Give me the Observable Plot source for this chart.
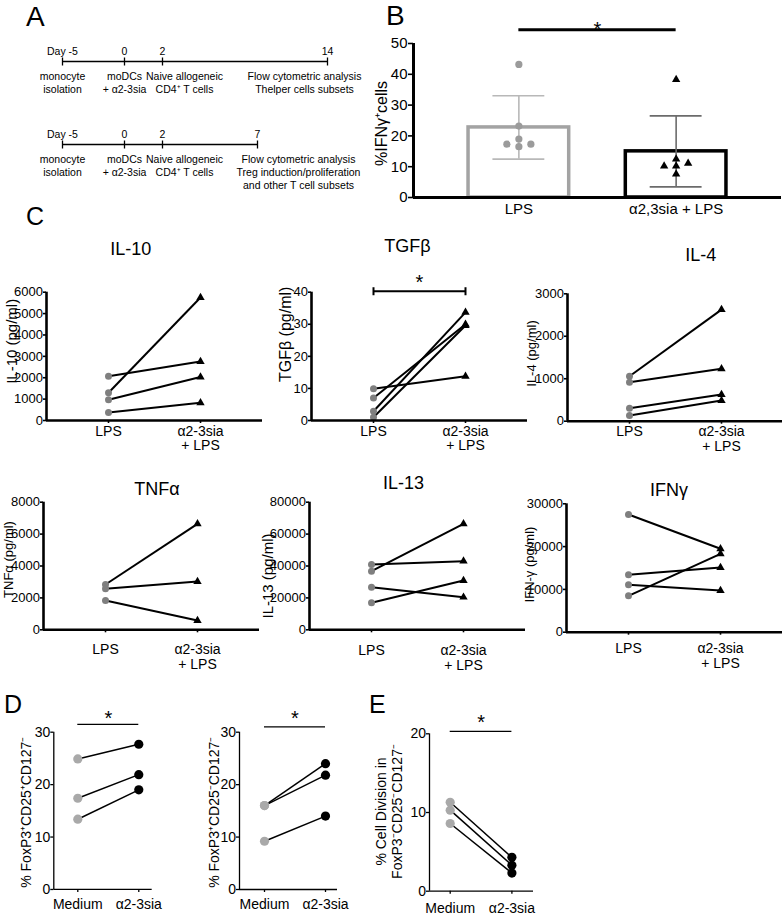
<!DOCTYPE html>
<html>
<head>
<meta charset="utf-8">
<script src="https://cdn.jsdelivr.net/npm/d3@7"></script>
<script src="https://cdn.jsdelivr.net/npm/@observablehq/plot@0.6"></script>
<style>
  body { margin: 0; background: #fff; }
  #fig { position: relative; width: 782px; height: 915px; overflow: hidden; background: #fff;
         font-family: "Liberation Sans", Arial, Helvetica, sans-serif; }
  .letter { position: absolute; line-height: 1; font-family: "Liberation Sans", Arial, Helvetica, sans-serif; color: #000; }
</style>
</head>
<body>
<div id="fig"></div>
<script>
// ---------------- DATA ----------------
// Panel A: culture timelines
const timelineRows = ["T helper subsets", "Treg induction"];
const timelineDaysTh = [-5, 0, 2, 14];
const timelineDaysTreg = [-5, 0, 2, 7];
const timelineEventLabels = ["monocyte\nisolation", "moDCs\n+ α2-3sia", "Naive allogeneic\nCD4⁺ T cells"];
const timelineEndLabels = ["Flow cytometric analysis\nThelper cells subsets",
                           "Flow cytometric analysis\nTreg induction/proliferation\nand other T cell subsets"];

// Panel B: % IFNγ+ cells
const ifngCategories = ["LPS", "α2,3sia + LPS"];
const ifngLPS = [43.2, 23.2, 19.0, 16.5, 17.3, 17.3];
const ifngSia = [38.3, 12.5, 11.1, 10.2, 10.2, 7.6];
const ifngTicks = [0, 10, 20, 30, 40, 50];

// Panel C: cytokines (pg/ml), paired donors LPS -> α2-3sia + LPS
const cytoCategories = ["LPS", "α2-3sia\n+ LPS"];
const il10LPS = [2070, 1300, 970, 370];
const il10Sia = [2760, 5750, 2030, 830];
const il10Ticks = [0, 1000, 2000, 3000, 4000, 5000, 6000];
const tgfbLPS = [9.9, 7.0, 2.9, 1.0];
const tgfbSia = [13.8, 30.0, 33.7, 29.6];
const tgfbTicks = [0, 10, 20, 30, 40];
const il4LPS = [1059, 918, 306, 134];
const il4Sia = [2628, 1233, 628, 487];
const il4Ticks = [0, 1000, 2000, 3000];
const tnfLPS = [2840, 2570, 1837];
const tnfSia = [6646, 3028, 583];
const tnfTicks = [0, 2000, 4000, 6000, 8000];
const il13LPS = [40940, 36760, 26720, 16930];
const il13Sia = [43020, 66450, 20440, 30900];
const il13Ticks = [0, 20000, 40000, 60000, 80000];
const ifnLPS = [27500, 13400, 11070, 8500];
const ifnSia = [19490, 15120, 9740, 18320];
const ifnTicks = [0, 10000, 20000, 30000];

// Panels D & E
const tregCategories = ["Medium", "α2-3sia"];
const d1Medium = [24.9, 17.4, 13.4];
const d1Sia = [27.7, 21.9, 19.0];
const d2Medium = [16.0, 16.0, 9.2];
const d2Sia = [24.0, 21.8, 14.0];
const tregTicks = [0, 10, 20, 30];
const eMedium = [11.3, 10.3, 8.6];
const eSia = [4.3, 3.3, 2.3];
const eTicks = [0, 10, 20];

// ---------------- HELPERS ----------------
const FONT = '"Liberation Sans", Arial, Helvetica, sans-serif';
const baseStyle = {fontFamily: FONT, background: "transparent", overflow: "visible", color: "black"};
const fig = document.getElementById("fig");
function place(node, left, top) {
  node.style.position = "absolute";
  node.style.left = left + "px";
  node.style.top = top + "px";
  fig.appendChild(node);
}
function letter(ch, left, top, size) {
  const d = document.createElement("div");
  d.className = "letter";
  d.textContent = ch;
  d.style.left = left + "px";
  d.style.top = top + "px";
  d.style.fontSize = size + "px";
  fig.appendChild(d);
}
// vertical bar symbol (timeline ticks, bracket caps)
const vbar = {draw(ctx, size) { const r = Math.sqrt(size / Math.PI); ctx.moveTo(0, -r); ctx.lineTo(0, r); }};

// simple beeswarm offsets (in slot units)
function swarm(values, pxPerUnit, stepPx, minDist) {
  const placed = [], off = new Array(values.length);
  const order = d3.range(values.length).sort((a, b) => values[a] - values[b]);
  for (const i of order) {
    for (const k of [0, -1, 1, -2, 2, -3, 3]) {
      if (placed.every(p => Math.hypot((p.k - k) * stepPx, (p.v - values[i]) * pxPerUnit) >= minDist)) {
        off[i] = k; placed.push({k, v: values[i]}); break;
      }
    }
  }
  return off;
}

// ---------------- PANEL A ----------------
const tlEvents = [];
[timelineDaysTh, timelineDaysTreg].forEach((days, r) => days.forEach((day, j) => tlEvents.push({
  row: timelineRows[r], r, day, j, last: j === days.length - 1,
  top: j === 0 ? `Day ${day}` : String(day),
  bottom: j === days.length - 1 ? timelineEndLabels[r] : timelineEventLabels[j]
})));
const tlSpans = [timelineDaysTh, timelineDaysTreg].map((days, r) => ({row: timelineRows[r], start: d3.min(days), end: d3.max(days)}));
const allDays = Array.from(new Set([...timelineDaysTh, ...timelineDaysTreg])).sort((a, b) => a - b);
const tA = {x: "day", y: "row", fontSize: 10.5, lineHeight: 1.2, text: "bottom", lineAnchor: "top", dy: 10};
const plotA = Plot.plot({
  width: 385, height: 195, margin: 0, style: baseStyle,
  x: {type: "linear", domain: allDays, range: [62, 124, 162, 257, 327], axis: null},
  y: {type: "point", domain: timelineRows, range: [61, 144], padding: 0, axis: null},
  marks: [
    Plot.ruleY(tlSpans, {y: "row", x1: "start", x2: "end", stroke: "black", strokeWidth: 1.3}),
    Plot.dot(tlEvents, {x: "day", y: "row", symbol: vbar, r: 4, fill: "none", stroke: "black", strokeWidth: 1.3}),
    Plot.text(tlEvents, {x: "day", y: "row", fontSize: 10.5, text: "top", lineAnchor: "bottom", dy: -7}),
    Plot.text(tlEvents.filter(d => !d.last && d.j < 2), tA),
    Plot.text(tlEvents.filter(d => !d.last && d.j === 2), {...tA, dx: 22}),
    Plot.text(tlEvents.filter(d => d.last && d.r === 0), {...tA, dx: -23}),
    Plot.text(tlEvents.filter(d => d.last && d.r === 1), {...tA, dx: 41})
  ]
});
place(plotA, 0, 0);

// ---------------- PANEL B ----------------
const bPad = 0.67, barHalf = 0.32, capHalf = 0.165;
const bW = 422, bH = 225, bML = 53, bMR = 1, bMT = 43, bMB = 28;
const bUnitPx = (bW - bML - bMR) / (1 + 2 * bPad);
const bPxPerUnit = (bH - bMT - bMB) / d3.max(ifngTicks);
const bXDomain = [1 - bPad, 2 + bPad];
const bSets = [ifngLPS, ifngSia];
const bStats = bSets.map((v, k) => ({k, pos: k + 1, mean: d3.mean(v), sd: d3.deviation(v)}));
const bDots = [];
bSets.forEach((vals, k) => {
  const off = swarm(vals, bPxPerUnit, 12, 7);
  vals.forEach((v, i) => bDots.push({k, x: k + 1 + off[i] * 12 / bUnitPx, y: v}));
});
const bBarStroke = ["#a3a3a3", "#000000"];
const bErrStroke = ["#b8b8b8", "#6b6b6b"];
const bBracketLevel = 54.5;
const bMarks = [];
bStats.forEach(g => {
  bMarks.push(Plot.rectY([g], {x1: d => d.pos - barHalf, x2: d => d.pos + barHalf, y1: () => 0, y2: "mean",
    fill: "white", stroke: bBarStroke[g.k], strokeWidth: 3.5}));
  bMarks.push(Plot.ruleX([g], {x: "pos", y1: d => d.mean - d.sd, y2: d => d.mean + d.sd, stroke: bErrStroke[g.k], strokeWidth: 1.6}));
  bMarks.push(Plot.ruleY([g.mean - g.sd, g.mean + g.sd], {y: d => d, x1: () => g.pos - capHalf, x2: () => g.pos + capHalf,
    stroke: bErrStroke[g.k], strokeWidth: 1.6}));
});
bMarks.push(
  Plot.dot(bDots.filter(d => d.k === 0), {x: "x", y: "y", r: 3.6, fill: "#9b9b9b", symbol: "circle"}),
  Plot.dot(bDots.filter(d => d.k === 1), {x: "x", y: "y", r: 3.1, fill: "black", symbol: "triangle"}),
  Plot.ruleY([0], {strokeWidth: 3}),
  Plot.ruleX([bXDomain[0]], {y1: () => 0, y2: () => d3.max(ifngTicks), strokeWidth: 3}),
  Plot.axisY({ticks: ifngTicks, tickSize: 5, tickPadding: 1, fontSize: 15, strokeWidth: 1.6, label: null}),
  Plot.axisX({ticks: [1, 2], tickFormat: d => ifngCategories[d - 1], tickSize: 0, tickPadding: 6, fontSize: 15, label: null}),
  Plot.text(["%IFNγ⁺cells"], {frameAnchor: "left", textAnchor: "middle", rotate: -90, dx: -32, dy: 3, fontSize: 16, text: d => d}),
  Plot.ruleY([bBracketLevel], {y: d => d, x1: () => 1, x2: () => 2, strokeWidth: 3}),
  Plot.text(["*"], {x: () => 1.5, y: () => bBracketLevel, fontSize: 20, text: d => d})
);
const plotB = Plot.plot({
  width: bW, height: bH, marginLeft: bML, marginRight: bMR, marginTop: bMT, marginBottom: bMB,
  style: baseStyle,
  x: {domain: bXDomain}, y: {domain: [0, d3.max(ifngTicks)]},
  marks: bMarks
});
place(plotB, 360, 0);

// ---------------- PAIRED PLOTS (C, D, E) ----------------
function pairedPlot(c, L) {
  const frameW = L.padL + L.unit + L.padR;
  const width = L.mL + frameW + L.mR;
  const height = L.svgBottom - L.svgTop;
  const ymax = d3.max(c.yTicks);
  const xDomain = [-L.padL / L.unit, 1 + L.padR / L.unit];
  const pairs = c.before.map((v, i) => ({a: v, b: c.after[i]}));
  const marks = [
    Plot.link(pairs, {x1: () => 0, y1: "a", x2: () => 1, y2: "b", stroke: "black", strokeWidth: c.lineWidth}),
    Plot.dot(pairs, {x: () => 0, y: "a", fill: c.beforeColor, r: c.r1, symbol: "circle"}),
    Plot.dot(pairs, {x: () => 1, y: "b", fill: "black", r: c.r2, symbol: c.afterSymbol}),
    Plot.ruleY([0], {strokeWidth: c.axisWidth}),
    Plot.ruleX([xDomain[0]], {y1: () => 0, y2: () => ymax, strokeWidth: c.axisWidth}),
    Plot.axisY({ticks: c.yTicks, tickSize: L.ytickSize, tickPadding: L.ytickPad, fontSize: c.yTickFont,
      strokeWidth: c.tickWidth, label: null, tickFormat: d3.format("d")}),
    Plot.axisX({ticks: [0, 1], tickFormat: i => c.cats[i], tickSize: 3, tickPadding: L.xtickPad,
      fontSize: c.xTickFont, lineHeight: 1.06, strokeWidth: c.tickWidth, label: null}),
    Plot.text([c.ylabel], {frameAnchor: "left", textAnchor: "middle", rotate: -90, dx: L.labelDx, dy: L.labelDy,
      fontSize: L.labelSize, lineHeight: 1.2, text: d => d})
  ];
  if (c.title) marks.push(Plot.text([c.title], {frameAnchor: "top", dx: L.titleDx, dy: L.titleDy, fontSize: 18, text: d => d}));
  if (c.sigLevel != null) {
    marks.push(Plot.ruleY([c.sigLevel], {y: d => d, x1: () => 0, x2: () => 1, strokeWidth: c.sigWidth}));
    if (c.sigCaps) marks.push(Plot.dot([0, 1], {x: d => d, y: () => c.sigLevel, symbol: vbar, r: 4, fill: "none", stroke: "black", strokeWidth: c.sigWidth}));
    marks.push(Plot.text(["*"], {x: () => 0.5, y: () => c.sigLevel, dy: L.starDy, fontSize: 20, text: d => d}));
  }
  const p = Plot.plot({
    width, height, marginLeft: L.mL, marginRight: L.mR,
    marginTop: L.yTop - L.svgTop, marginBottom: L.svgBottom - L.y0,
    style: baseStyle,
    x: {domain: xDomain}, y: {domain: [0, ymax]},
    marks
  });
  place(p, L.axisX - L.mL, L.svgTop);
}

const cStyle = {cats: cytoCategories, lineWidth: 2, beforeColor: "#7f7f7f", r1: 3.5, r2: 3.1, afterSymbol: "triangle",
  axisWidth: 2.6, tickWidth: 1.6, yTickFont: 13, xTickFont: 14, sigWidth: 2, sigCaps: true};
const cytokines = [
  {title: "IL-10", ylabel: "IL-10 (pg/ml)", before: il10LPS, after: il10Sia, yTicks: il10Ticks},
  {title: "TGFβ", ylabel: "TGFβ (pg/ml)", before: tgfbLPS, after: tgfbSia, yTicks: tgfbTicks, sigLevel: 40.3},
  {title: "IL-4", ylabel: "IL-4 (pg/ml)", before: il4LPS, after: il4Sia, yTicks: il4Ticks},
  {title: "TNFα", ylabel: "TNFα (pg/ml)", before: tnfLPS, after: tnfSia, yTicks: tnfTicks},
  {title: "IL-13", ylabel: "IL-13 (pg/ml)", before: il13LPS, after: il13Sia, yTicks: il13Ticks},
  {title: "IFNγ", ylabel: "IFN-γ (pg/ml)", before: ifnLPS, after: ifnSia, yTicks: ifnTicks}
];
const cCommon = {mL: 46, mR: 4, padL: 62, unit: 92, padR: 62, ytickSize: 3, ytickPad: 0.5, starDy: -8.5};
const cLayouts = [
  {axisX: 45.7, yTop: 291.7, y0: 420, svgTop: 222, svgBottom: 452, titleDx: -23.7, titleDy: -49.7, labelDx: -35, labelDy: -15, labelSize: 15, xtickPad: 1.5},
  {axisX: 310.7, yTop: 291.7, y0: 420, svgTop: 222, svgBottom: 452, titleDx: -12, titleDy: -52.7, labelDx: -26.5, labelDy: -22, labelSize: 16, xtickPad: 1.5},
  {axisX: 566.7, yTop: 293.3, y0: 420.7, svgTop: 222, svgBottom: 452, titleDx: 25.3, titleDy: -45.3, labelDx: -37, labelDy: -4, labelSize: 13, xtickPad: 1.5},
  {axisX: 43.3, yTop: 501.7, y0: 629.3, svgTop: 462, svgBottom: 677, titleDx: 5.4, titleDy: -20, labelDx: -36, labelDy: -6.5, labelSize: 13, xtickPad: 10.5},
  {axisX: 309.3, yTop: 501.7, y0: 629.3, svgTop: 462, svgBottom: 677, titleDx: -14, titleDy: -25.7, labelDx: -42, labelDy: 10, labelSize: 15, xtickPad: 12},
  {axisX: 565.7, yTop: 503.3, y0: 631.7, svgTop: 462, svgBottom: 677, titleDx: -5.4, titleDy: -20.3, labelDx: -38, labelDy: -3.5, labelSize: 13, xtickPad: 7}
];
cytokines.forEach((c, i) => pairedPlot({...cStyle, ...c}, {...cCommon, ...cLayouts[i]}));

const dStyle = {cats: tregCategories, lineWidth: 1.5, beforeColor: "#a9a9a9", r1: 4.6, r2: 4.6, afterSymbol: "circle",
  axisWidth: 1.3, tickWidth: 1.3, yTickFont: 14, xTickFont: 14, sigWidth: 1.3, sigCaps: false};
const dCommon = {svgTop: 690, svgBottom: 915, ytickSize: 3, ytickPad: 0.5, labelSize: 14};
pairedPlot({...dStyle, ylabel: "% FoxP3⁺CD25⁺CD127⁻", before: d1Medium, after: d1Sia, yTicks: tregTicks, sigLevel: 31.5},
  {...dCommon, axisX: 53.3, mL: 53.3, mR: 6, padL: 24, unit: 61, padR: 13.4, yTop: 731.7, y0: 889, labelDx: -28.3, labelDy: 1.4, xtickPad: 6.3, starDy: -5.8});
pairedPlot({...dStyle, ylabel: "% FoxP3⁺CD25⁻CD127⁻", before: d2Medium, after: d2Sia, yTicks: tregTicks, sigLevel: 31.0},
  {...dCommon, axisX: 239, mL: 54, mR: 6, padL: 25, unit: 61, padR: 12, yTop: 731.7, y0: 889, labelDx: -26.3, labelDy: 1.4, xtickPad: 6.3, starDy: -8.5});
pairedPlot({...dStyle, ylabel: "% Cell Division in\nFoxP3⁻CD25⁻CD127⁻", before: eMedium, after: eSia, yTicks: eTicks, sigLevel: 20.3},
  {...dCommon, axisX: 429.3, mL: 60, mR: 6, padL: 20.7, unit: 61.7, padR: 21.6, yTop: 733.3, y0: 890.7, labelDx: -40.8, labelDy: -1, xtickPad: 8, starDy: -8.8});

// ---------------- PANEL LETTERS ----------------
letter("A", 26, 3.3, 28);
letter("B", 386, 1.5, 28);
letter("C", 26, 203.8, 25);
letter("D", 4, 691.8, 25);
letter("E", 369, 691.8, 25);
</script>
</body>
</html>
